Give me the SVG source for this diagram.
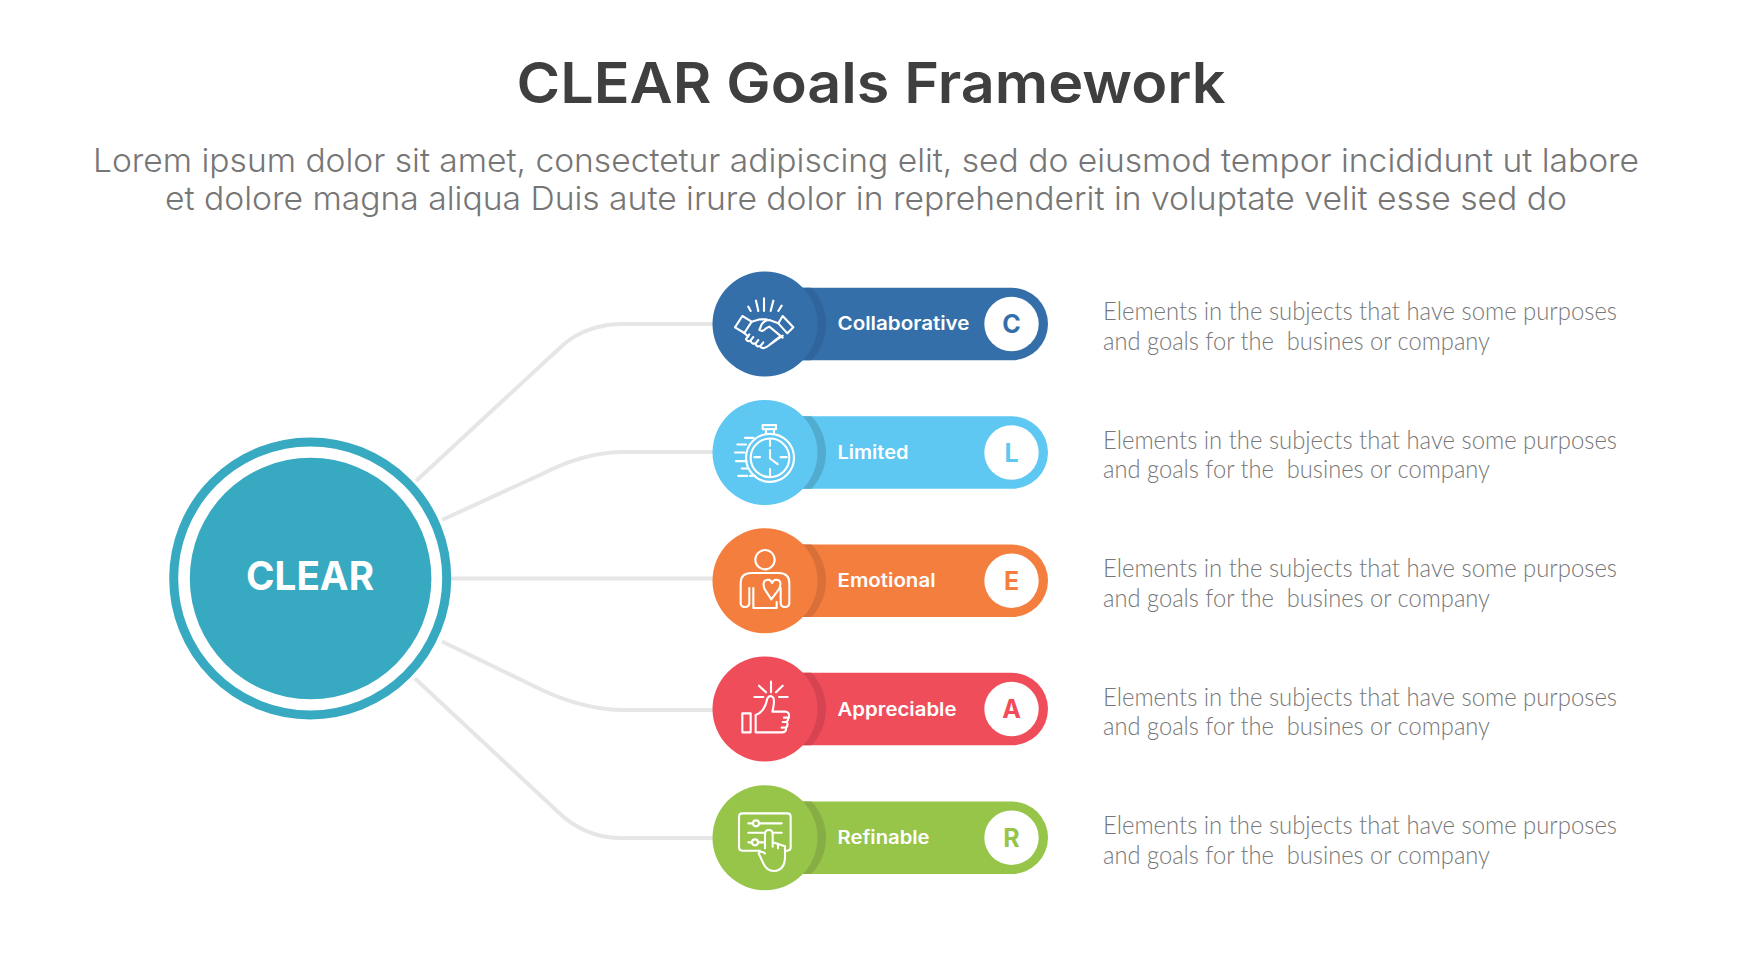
<svg xmlns="http://www.w3.org/2000/svg" width="1742" height="980" viewBox="0 0 1742 980">
<style>
.bg{fill:#fff}
.title{font:600 57px Inter,"Liberation Sans",sans-serif;fill:#3f3f3f}
.sub{font:300 33px Inter,"Liberation Sans",sans-serif;fill:#767676}
.desc{font:300 24.5px Lato,"Liberation Sans",sans-serif;fill:#777;white-space:pre}
.lbl{font:600 18.5px Inter,"Liberation Sans",sans-serif;fill:#fff}
.let{font:700 25px Inter,"Liberation Sans",sans-serif;text-anchor:middle}
.core{font:700 40px Inter,"Liberation Sans",sans-serif;fill:#fff}
.con{fill:none;stroke:#e6e6e6;stroke-width:4}
.ic{fill:none;stroke:#fff;stroke-width:6.3;stroke-linecap:round;stroke-linejoin:round}
</style>
<defs>
<clipPath id="pc"><rect x="765" y="-36.3" width="283" height="72.6" rx="36.3"/></clipPath>
</defs>
<rect class="bg" width="1742" height="980"/>
<text class="title" x="516.5" y="103" textLength="709" lengthAdjust="spacingAndGlyphs">CLEAR Goals Framework</text>
<text class="sub" x="93" y="172" textLength="1546" lengthAdjust="spacingAndGlyphs">Lorem ipsum dolor sit amet, consectetur adipiscing elit, sed do eiusmod tempor incididunt ut labore</text>
<text class="sub" x="165" y="210" textLength="1402" lengthAdjust="spacingAndGlyphs">et dolore magna aliqua Duis aute irure dolor in reprehenderit in voluptate velit esse sed do</text>
<g id="connectors">
<path class="con" d="M416 481 L563 345 Q587 324 624 324 H717"/>
<path class="con" d="M442 520 L542 474 Q585 452 624 452 H717"/>
<path class="con" d="M451 578.4 H717"/>
<path class="con" d="M442 641.5 L542 690 Q585 710 624 710 H717"/>
<path class="con" d="M415 678.5 L557 811 Q585 838 620 838 H717"/>
</g>
<g id="node-clear">
<circle cx="310.2" cy="578.4" r="136.5" fill="none" stroke="#37a9c1" stroke-width="9"/>
<circle cx="310.6" cy="578.5" r="120.8" fill="#37a9c1"/>
<text class="core" x="246" y="590" textLength="128" lengthAdjust="spacingAndGlyphs">CLEAR</text>
</g>
<g id="node-collaborative" transform="translate(0 324)">
<rect x="765" y="-36.3" width="283" height="72.6" rx="36.3" fill="#346fa9"/>
<circle cx="773.5" cy="0" r="52.5" fill="#2f659c" clip-path="url(#pc)"/>
<circle cx="765" cy="0" r="52.5" fill="#346fa9"/>
<g class="ic" transform="translate(765 0) scale(.3333) translate(-165 -177)">
<path d="M115 125L122 138M138 107L145 138M162 100V138M190 107L182 138M215 122L205 138"/>
<path d="M97 153L75 187L103 204L125 170ZM218 153L250 187L232 205L205 175Z"/>
<path d="M125 170L150 163H170M205 175L178 165Q165 165 155 178L148 195Q158 202 168 190L178 185L218 218"/>
<path d="M103 204L115 215M118 208L108 222Q112 232 122 226L130 216M122 228Q126 240 138 234L145 225M136 236Q140 248 152 242L160 232M150 244Q158 254 170 246L218 212M178 240L200 222M190 230L208 216"/>
</g>
<text class="lbl" x="837.5" y="6" textLength="132" lengthAdjust="spacingAndGlyphs">Collaborative</text>
<circle cx="1011.5" cy="0" r="27.2" fill="#fff"/>
<text class="let" x="1011.5" y="9" fill="#346fa9">C</text>
</g>
<g id="node-limited" transform="translate(0 452.5)">
<rect x="765" y="-36.3" width="283" height="72.6" rx="36.3" fill="#5ec7f2"/>
<circle cx="773.5" cy="0" r="52.5" fill="#52acd0" clip-path="url(#pc)"/>
<circle cx="765" cy="0" r="52.5" fill="#5ec7f2"/>
<g class="ic" transform="translate(765 0) scale(.3333) translate(-165 -172)">
<circle cx="180" cy="188" r="72"/><circle cx="180" cy="188" r="58"/>
<path d="M158 90H198V102H158ZM168 102V116M192 102V116"/>
<path d="M180 135V152M180 222V240M133 186H150M212 186H230M180 165V190L203 207"/>
<path d="M82 148H108M105 128H130M75 172H103M78 198H110M95 220H115M85 242H112M120 242H135"/>
</g>
<text class="lbl" x="837.5" y="6.5" textLength="71" lengthAdjust="spacingAndGlyphs">Limited</text>
<circle cx="1011.5" cy="0" r="27.2" fill="#fff"/>
<text class="let" x="1011.5" y="9" fill="#5ec7f2">L</text>
</g>
<g id="node-emotional" transform="translate(0 580.7)">
<rect x="765" y="-36.3" width="283" height="72.6" rx="36.3" fill="#f47e3e"/>
<circle cx="773.5" cy="0" r="52.5" fill="#d9703a" clip-path="url(#pc)"/>
<circle cx="765" cy="0" r="52.5" fill="#f47e3e"/>
<g class="ic" transform="translate(765 0) scale(.3333) translate(-165 -168)">
<circle cx="165" cy="105" r="29"/>
<path d="M118 190V235Q118 247 105 247Q92 247 92 235V175Q92 145 125 145H205Q238 145 238 175V235Q238 247 225 247Q212 247 212 235V190"/>
<path d="M130 190V250H200V232"/>
<path d="M184 224L163 192Q155 165 175 165Q183 165 186 175Q190 165 198 165Q218 165 208 192Z"/>
</g>
<text class="lbl" x="837.5" y="6.7" textLength="98" lengthAdjust="spacingAndGlyphs">Emotional</text>
<circle cx="1011.5" cy="0" r="27.2" fill="#fff"/>
<text class="let" x="1011.5" y="9" fill="#f47e3e">E</text>
</g>
<g id="node-appreciable" transform="translate(0 709)">
<rect x="765" y="-36.3" width="283" height="72.6" rx="36.3" fill="#f04d5a"/>
<circle cx="773.5" cy="0" r="52.5" fill="#d64451" clip-path="url(#pc)"/>
<circle cx="765" cy="0" r="52.5" fill="#f04d5a"/>
<g class="ic" transform="translate(765 0) scale(.3333) translate(-165 -162)">
<rect x="97" y="175" width="25" height="57"/>
<path d="M137 232V180Q165 170 172 130Q180 118 190 128Q195 140 187 170H228Q240 172 236 188Q234 198 230 200Q236 210 228 218Q230 232 215 232Z"/>
<path d="M222 188H236M218 201H230M215 218H228"/>
<path d="M183 80V112M147 92L168 112M218 92L198 112M133 126H160M207 126H233"/>
</g>
<text class="lbl" x="837.5" y="6.7" textLength="119" lengthAdjust="spacingAndGlyphs">Appreciable</text>
<circle cx="1011.5" cy="0" r="27.2" fill="#fff"/>
<text class="let" x="1011.5" y="9" fill="#f04d5a">A</text>
</g>
<g id="node-refinable" transform="translate(0 837.7)">
<rect x="765" y="-36.3" width="283" height="72.6" rx="36.3" fill="#96c54a"/>
<circle cx="773.5" cy="0" r="52.5" fill="#86ae44" clip-path="url(#pc)"/>
<circle cx="765" cy="0" r="52.5" fill="#96c54a"/>
<g class="ic" transform="translate(765 0) scale(.3333) translate(-165 -158)">
<path d="M150 197H97Q87 197 87 187V95Q87 85 97 85H232Q242 85 242 95V187Q242 197 232 197H226"/>
<circle cx="138" cy="115" r="9"/><circle cx="135" cy="172" r="9"/>
<path d="M115 115H129M147 115H215M115 143H160M190 143H215M115 172H126M144 172H160"/>
<path d="M165 190V148Q165 135 177 135Q188 135 188 148V172L225 184V215Q225 255 192 258Q170 258 160 235L146 205Q150 195 165 205M188 172V185M204 176V190"/>
</g>
<text class="lbl" x="837.5" y="6.5" textLength="92" lengthAdjust="spacingAndGlyphs">Refinable</text>
<circle cx="1011.5" cy="0" r="27.2" fill="#fff"/>
<text class="let" x="1011.5" y="9" fill="#96c54a">R</text>
</g>
<g id="descriptions">
<text class="desc" x="1103" y="320" textLength="514" lengthAdjust="spacingAndGlyphs">Elements in the subjects that have some purposes</text>
<text class="desc" x="1103" y="349.5" textLength="387" lengthAdjust="spacingAndGlyphs">and goals for the  busines or company</text>
<text class="desc" x="1103" y="448.5" textLength="514" lengthAdjust="spacingAndGlyphs">Elements in the subjects that have some purposes</text>
<text class="desc" x="1103" y="478" textLength="387" lengthAdjust="spacingAndGlyphs">and goals for the  busines or company</text>
<text class="desc" x="1103" y="577" textLength="514" lengthAdjust="spacingAndGlyphs">Elements in the subjects that have some purposes</text>
<text class="desc" x="1103" y="606.5" textLength="387" lengthAdjust="spacingAndGlyphs">and goals for the  busines or company</text>
<text class="desc" x="1103" y="705.5" textLength="514" lengthAdjust="spacingAndGlyphs">Elements in the subjects that have some purposes</text>
<text class="desc" x="1103" y="735" textLength="387" lengthAdjust="spacingAndGlyphs">and goals for the  busines or company</text>
<text class="desc" x="1103" y="834" textLength="514" lengthAdjust="spacingAndGlyphs">Elements in the subjects that have some purposes</text>
<text class="desc" x="1103" y="863.5" textLength="387" lengthAdjust="spacingAndGlyphs">and goals for the  busines or company</text>
</g>
</svg>
